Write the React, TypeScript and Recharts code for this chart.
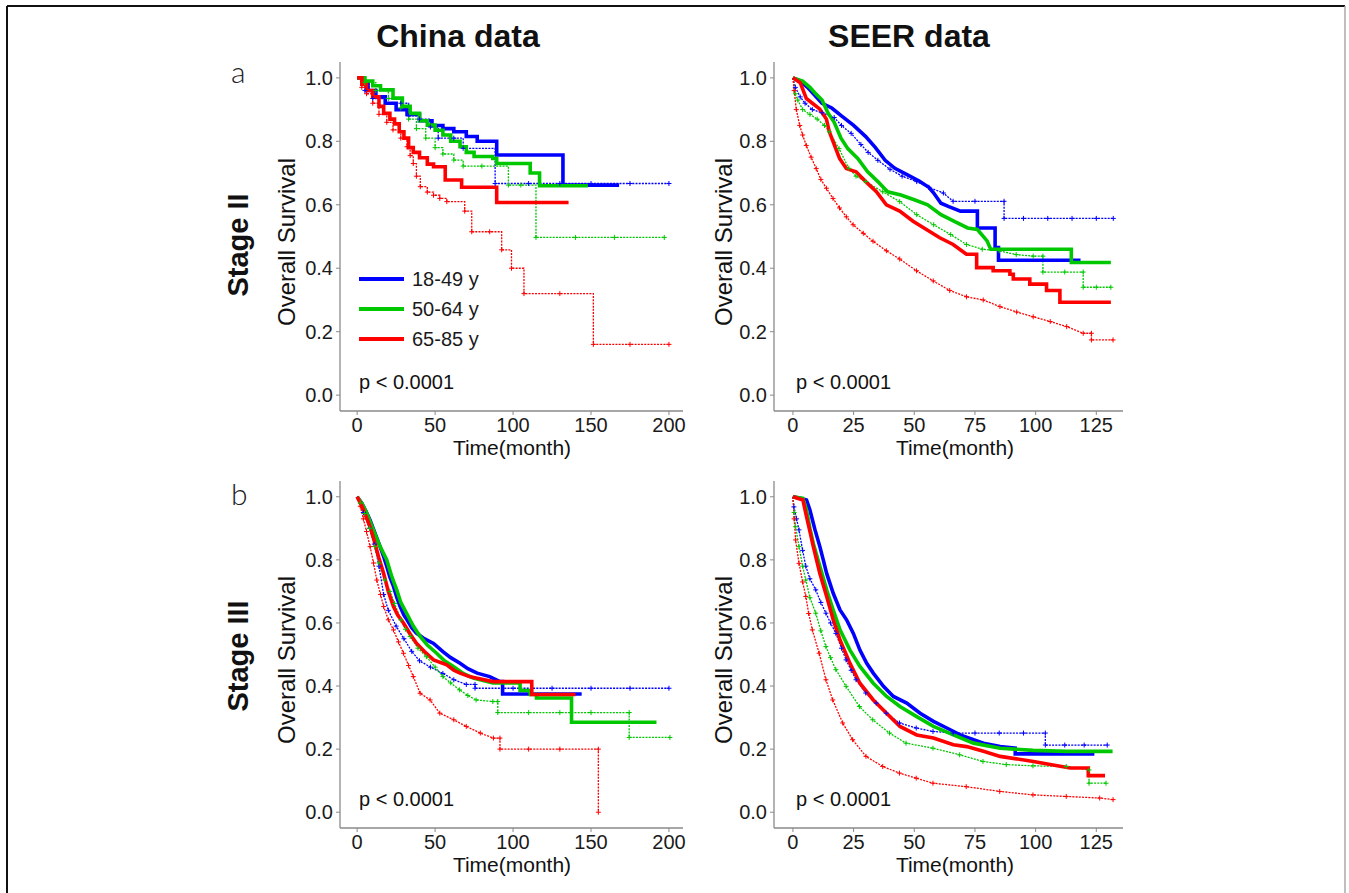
import React from 'react';
import { LineChart, Line, XAxis, YAxis, Legend } from 'recharts';

type Pt = [number, number];

const FONT = '"Liberation Sans", Arial, Helvetica, sans-serif';
const AGE_GROUPS = ['18-49 y', '50-64 y', '65-85 y'];
const GROUP_COLORS = ['#0000ff', '#00c800', '#ff0000'];
const CHINA_TICKS = [0, 50, 100, 150, 200];
const SEER_TICKS = [0, 25, 50, 75, 100, 125];
const SURV_TICKS = [0, 0.2, 0.4, 0.6, 0.8, 1.0];

// [month, survival]; extra points on flat stretches are censor marks

// China data, stage II (drawn as steps)
const chinaII_1849_solid: Pt[] = [[0, 1], [3, 0.98], [7, 0.96], [12, 0.94], [18, 0.92], [25, 0.9], [32, 0.885], [40, 0.865], [48, 0.85], [55, 0.84], [62, 0.83], [70, 0.815], [77, 0.8], [89.5, 0.757], [132, 0.662], [168, 0.662]];
const chinaII_5064_solid: Pt[] = [[0, 1], [5, 0.99], [10, 0.975], [15, 0.962], [23, 0.936], [29, 0.91], [34, 0.888], [40, 0.865], [45, 0.851], [50, 0.835], [55, 0.82], [60, 0.8], [66, 0.783], [70, 0.765], [75, 0.752], [87, 0.746], [89.5, 0.73], [111, 0.7], [117, 0.66], [148, 0.66]];
const chinaII_6585_solid: Pt[] = [[0, 1], [3, 0.98], [6, 0.96], [10, 0.94], [14, 0.91], [17, 0.888], [21, 0.87], [24, 0.855], [27, 0.83], [30, 0.81], [33, 0.78], [36, 0.765], [40, 0.748], [45, 0.728], [49, 0.72], [56.5, 0.678], [67, 0.655], [89.5, 0.607], [135.6, 0.607]];
const chinaII_1849_dotted: Pt[] = [[0, 1], [5, 0.96], [10, 0.935], [28, 0.92], [33, 0.88], [40, 0.87], [47, 0.845], [52, 0.81], [62, 0.81], [68, 0.778], [88.5, 0.667], [110, 0.667], [130, 0.667], [150, 0.667], [175, 0.667], [200, 0.667]];
const chinaII_5064_dotted: Pt[] = [[0, 1], [5, 0.985], [12, 0.96], [20, 0.935], [28, 0.905], [33, 0.87], [38, 0.84], [44, 0.81], [50, 0.78], [55, 0.76], [62, 0.741], [68, 0.722], [80, 0.722], [97, 0.662], [105, 0.662], [114.7, 0.497], [140, 0.497], [165, 0.497], [197, 0.497]];
const chinaII_6585_dotted: Pt[] = [[0, 1], [3, 0.97], [6, 0.95], [10, 0.92], [14, 0.885], [19, 0.86], [23, 0.836], [28, 0.81], [32, 0.783], [34, 0.755], [36, 0.73], [38, 0.69], [40.5, 0.657], [45, 0.64], [49, 0.63], [53, 0.62], [57.5, 0.61], [69, 0.58], [73.5, 0.515], [85, 0.515], [92.7, 0.458], [99, 0.4], [107, 0.32], [130, 0.32], [151.5, 0.16], [175, 0.16], [200, 0.16]];

// SEER data, stage II (traced vertices)
const seerII_1849_solid: Pt[] = [[0, 1], [3, 0.99], [6, 0.97], [9, 0.945], [12, 0.92], [16, 0.905], [20, 0.88], [25, 0.85], [30, 0.815], [34, 0.78], [38, 0.74], [42, 0.715], [47, 0.695], [52, 0.675], [56, 0.655], [58, 0.637], [61, 0.605], [64, 0.595], [69, 0.58], [76, 0.58], [76, 0.527], [83.3, 0.527], [83.3, 0.465], [84.7, 0.465], [84.7, 0.425], [118.5, 0.425]];
const seerII_5064_solid: Pt[] = [[0, 1], [4, 0.99], [7, 0.97], [9, 0.953], [12, 0.93], [14.4, 0.89], [17, 0.86], [19.8, 0.81], [22.6, 0.777], [26.7, 0.746], [30.8, 0.704], [35, 0.673], [39, 0.641], [44.5, 0.631], [50, 0.616], [55.5, 0.6], [61, 0.569], [66.5, 0.548], [72, 0.527], [76, 0.522], [80, 0.486], [81.5, 0.46], [114.7, 0.46], [114.7, 0.418], [131, 0.418]];
const seerII_6585_solid: Pt[] = [[0, 1], [3, 0.985], [5.5, 0.935], [8, 0.92], [11, 0.902], [13.8, 0.87], [15, 0.83], [16.5, 0.8], [19.2, 0.746], [22, 0.714], [26, 0.704], [30, 0.673], [34.4, 0.641], [38.5, 0.6], [44, 0.58], [49.5, 0.548], [55, 0.522], [60.5, 0.496], [66, 0.475], [71.5, 0.444], [75.7, 0.444], [75.7, 0.402], [82.5, 0.402], [82.5, 0.392], [89.4, 0.392], [89.4, 0.381], [90.8, 0.381], [90.8, 0.366], [97.6, 0.366], [97.6, 0.35], [104.5, 0.35], [104.5, 0.33], [110, 0.33], [110, 0.293], [131, 0.293]];
const seerII_1849_dotted: Pt[] = [[0, 1], [1, 0.97], [3, 0.94], [5, 0.92], [8, 0.9], [12, 0.89], [17, 0.875], [20, 0.85], [24, 0.825], [28, 0.79], [31, 0.765], [35, 0.74], [40, 0.712], [45, 0.69], [51, 0.673], [56, 0.655], [62, 0.637], [66, 0.611], [75, 0.611], [87, 0.611], [87, 0.557], [95, 0.557], [105, 0.557], [115, 0.557], [125, 0.557], [132, 0.557]];
const seerII_5064_dotted: Pt[] = [[0, 1], [1, 0.95], [2, 0.93], [4, 0.9], [7, 0.885], [10, 0.87], [13, 0.85], [15, 0.83], [19, 0.777], [23, 0.715], [26, 0.69], [30, 0.673], [37, 0.641], [44, 0.61], [51, 0.569], [58, 0.537], [65, 0.506], [71.5, 0.475], [78, 0.46], [85, 0.455], [92, 0.443], [99, 0.438], [103, 0.438], [103, 0.388], [112, 0.388], [119.6, 0.388], [119.6, 0.34], [125, 0.34], [131, 0.34]];
const seerII_6585_dotted: Pt[] = [[0, 1], [0.5, 0.96], [1.4, 0.9], [2.8, 0.85], [4, 0.82], [5.5, 0.787], [7.5, 0.75], [9.6, 0.714], [11.5, 0.68], [13.8, 0.652], [16.5, 0.62], [19.2, 0.59], [22, 0.562], [24.8, 0.537], [29, 0.51], [33, 0.485], [38.5, 0.455], [44, 0.429], [50.9, 0.392], [57.8, 0.36], [64.6, 0.33], [71.5, 0.31], [78.4, 0.3], [85.3, 0.279], [92.2, 0.262], [99, 0.247], [106, 0.232], [112.8, 0.216], [119.6, 0.195], [123, 0.195], [123, 0.174], [131.9, 0.174]];

// China data, stage III (traced vertices)
const chinaIII_1849_solid: Pt[] = [[0, 1], [3, 0.98], [6, 0.95], [8.3, 0.926], [11, 0.89], [14.7, 0.842], [17, 0.81], [19, 0.779], [21, 0.745], [23.3, 0.716], [25.5, 0.68], [27.6, 0.652], [30, 0.625], [32, 0.61], [35, 0.585], [38, 0.568], [43, 0.55], [49, 0.535], [55, 0.509], [60, 0.49], [66, 0.472], [71, 0.455], [77, 0.441], [85, 0.43], [91.6, 0.414], [93.3, 0.414], [93.3, 0.375], [144, 0.375]];
const chinaIII_5064_solid: Pt[] = [[0, 1], [3, 0.98], [6, 0.95], [10.4, 0.895], [14, 0.85], [19, 0.8], [22, 0.75], [25.4, 0.705], [28, 0.665], [31.8, 0.63], [36, 0.59], [40.4, 0.557], [45, 0.53], [51, 0.504], [56, 0.48], [61.7, 0.462], [68, 0.44], [74.5, 0.425], [87, 0.41], [104.5, 0.41], [104.5, 0.386], [111, 0.386], [111, 0.373], [115, 0.373], [115, 0.362], [137.5, 0.362], [137.5, 0.285], [192, 0.285]];
const chinaIII_6585_solid: Pt[] = [[0, 1], [3, 0.97], [5.5, 0.94], [8.3, 0.905], [11, 0.86], [14, 0.805], [17, 0.757], [20, 0.7], [23.3, 0.652], [26, 0.625], [29.7, 0.6], [34, 0.565], [38, 0.536], [43, 0.51], [49, 0.483], [57.5, 0.467], [62, 0.45], [66, 0.441], [72, 0.43], [77, 0.425], [87, 0.414], [112, 0.414], [112, 0.373], [140, 0.373]];
const chinaIII_1849_dotted: Pt[] = [[0, 1], [4, 0.95], [8, 0.9], [11, 0.85], [14, 0.78], [17, 0.69], [20, 0.64], [25, 0.59], [30, 0.55], [35, 0.51], [40, 0.48], [47, 0.46], [55, 0.44], [62, 0.42], [70, 0.405], [75.6, 0.405], [75.6, 0.393], [100, 0.393], [125, 0.393], [150, 0.393], [175, 0.393], [200, 0.393]];
const chinaIII_5064_dotted: Pt[] = [[0, 1], [2, 0.98], [4.8, 0.947], [8, 0.9], [11.2, 0.842], [14, 0.79], [17.6, 0.736], [21, 0.7], [24, 0.662], [28, 0.61], [31, 0.58], [34, 0.557], [39, 0.52], [44.4, 0.493], [50, 0.46], [55, 0.43], [60, 0.41], [65.7, 0.388], [71, 0.37], [76.3, 0.356], [87, 0.351], [90.2, 0.351], [90.2, 0.316], [110, 0.316], [130, 0.316], [150, 0.316], [174.5, 0.316], [174.5, 0.237], [200.6, 0.237]];
const chinaIII_6585_dotted: Pt[] = [[0, 1], [2, 0.97], [4, 0.93], [6, 0.89], [8.3, 0.842], [10.5, 0.79], [12.6, 0.736], [15, 0.69], [17, 0.652], [20, 0.61], [23.3, 0.578], [26.5, 0.54], [29.7, 0.504], [33, 0.465], [36, 0.43], [40.4, 0.377], [46.8, 0.356], [53, 0.314], [62, 0.293], [70, 0.272], [79, 0.251], [87.4, 0.235], [91.6, 0.235], [91.6, 0.2], [110, 0.2], [130, 0.2], [154.7, 0.2], [154.7, 0]];

// SEER data, stage III (traced vertices)
const seerIII_1849_solid: Pt[] = [[0, 1], [3, 0.995], [5.6, 0.99], [7, 0.958], [9.1, 0.895], [11.1, 0.842], [12.5, 0.8], [13.9, 0.757], [16.6, 0.694], [19.4, 0.641], [22.1, 0.61], [24.9, 0.567], [27.6, 0.514], [30.4, 0.472], [33.1, 0.441], [37.3, 0.399], [41.4, 0.367], [46.9, 0.346], [52.4, 0.314], [57.9, 0.288], [63.4, 0.267], [68.9, 0.245], [78.5, 0.219], [85.4, 0.208], [91.6, 0.203], [91.6, 0.185], [124.2, 0.185]];
const seerIII_5064_solid: Pt[] = [[0, 1], [4.1, 0.995], [5.6, 0.958], [7, 0.9], [8.4, 0.852], [11.1, 0.78], [13.9, 0.705], [16.6, 0.641], [19.4, 0.578], [23.5, 0.514], [27.6, 0.462], [33.1, 0.409], [38.6, 0.367], [44.1, 0.335], [51, 0.303], [57.9, 0.272], [66.1, 0.245], [74.4, 0.219], [85.4, 0.203], [99, 0.196], [112.8, 0.193], [131.7, 0.193]];
const seerIII_6585_solid: Pt[] = [[0, 1], [4.1, 0.99], [5.6, 0.937], [7, 0.89], [8.4, 0.842], [11.1, 0.757], [13.9, 0.684], [16.6, 0.61], [19.4, 0.546], [23.5, 0.472], [27.6, 0.409], [33.1, 0.356], [38.6, 0.314], [44.1, 0.272], [51, 0.245], [57.9, 0.235], [66.1, 0.214], [71.6, 0.208], [78.5, 0.193], [85.4, 0.177], [99.1, 0.161], [106, 0.151], [114.2, 0.14], [121.7, 0.14], [121.7, 0.116], [128.6, 0.116]];
const seerIII_1849_dotted: Pt[] = [[0, 1], [0.4, 0.968], [1.5, 0.93], [2.5, 0.895], [4, 0.83], [5.3, 0.78], [7, 0.74], [9.4, 0.705], [11.5, 0.665], [13.6, 0.631], [15.5, 0.6], [17.7, 0.567], [20, 0.52], [21.9, 0.483], [24, 0.45], [26, 0.42], [30, 0.378], [34.3, 0.346], [38.4, 0.314], [43.9, 0.283], [50.8, 0.267], [57.7, 0.256], [66, 0.251], [75, 0.251], [85, 0.251], [95, 0.251], [104, 0.251], [104, 0.213], [112, 0.213], [120, 0.213], [129.5, 0.213]];
const seerIII_5064_dotted: Pt[] = [[0, 1], [0.5, 0.95], [1.1, 0.905], [2.5, 0.842], [4, 0.78], [5.3, 0.736], [7, 0.68], [9.4, 0.631], [11.5, 0.575], [13.6, 0.525], [15.5, 0.49], [17.7, 0.452], [21.9, 0.399], [27.4, 0.335], [32.9, 0.293], [39.8, 0.251], [46.6, 0.219], [57.7, 0.203], [68.7, 0.182], [78.3, 0.161], [87.9, 0.151], [98.9, 0.147], [112.6, 0.145], [122, 0.134], [122, 0.092], [129, 0.092]];
const seerIII_6585_dotted: Pt[] = [[0, 1], [0.5, 0.93], [1.1, 0.863], [2.5, 0.789], [4, 0.73], [5.3, 0.684], [6.5, 0.63], [8, 0.578], [10.8, 0.504], [13.6, 0.42], [16.4, 0.356], [20.5, 0.283], [24.6, 0.23], [30.1, 0.177], [37, 0.145], [43.9, 0.124], [50.8, 0.108], [57.7, 0.092], [71.4, 0.081], [85.2, 0.066], [98.9, 0.055], [112.6, 0.05], [126.4, 0.045], [131.9, 0.04]];

const toRows = (pts: Pt[]) => pts.map(([t, s]) => ({ t, s }));

// small "+" at each point of the thin curves
const censorDot = (color: string) => (props: any) => {
  const { cx, cy, index } = props;
  if (cx == null || cy == null || index === 0) return <g key={`c-${index}`} />;
  return (
    <path
      key={`c-${index}`}
      d={`M${cx - 2.5},${cy}H${cx + 2.5}M${cx},${cy - 2.5}V${cy + 2.5}`}
      stroke={color}
      strokeWidth={1}
      fill="none"
    />
  );
};

const AXIS_COLOR = '#8a8a8a';
const tickStyle = { fontSize: 20, fill: '#1a1a1a', fontFamily: FONT };

interface PanelProps {
  left: number;
  top: number;
  width: number;
  height: number;
  xDomain: [number, number];
  xTicks: number[];
  solid: Pt[][];
  dotted: Pt[][];
  curve: 'stepAfter' | 'linear';
  showLegend?: boolean;
}

function KMPanel({ left, top, width, height, xDomain, xTicks, solid, dotted, curve, showLegend }: PanelProps) {
  return (
    <div style={{ position: 'absolute', left, top }}>
      <LineChart width={width} height={height} margin={{ top: 22, right: 17, bottom: 0, left: 0 }}>
        <XAxis
          type="number"
          dataKey="t"
          domain={xDomain}
          ticks={xTicks}
          interval={0}
          allowDataOverflow
          height={40}
          axisLine={{ stroke: AXIS_COLOR, strokeWidth: 1.3 }}
          tickLine={{ stroke: AXIS_COLOR }}
          tickSize={4}
          tickMargin={3}
          tick={tickStyle}
        />
        <YAxis
          type="number"
          domain={[-0.05, 1.05]}
          ticks={SURV_TICKS}
          interval={0}
          allowDataOverflow
          width={90}
          tickFormatter={(v: number) => v.toFixed(1)}
          axisLine={{ stroke: AXIS_COLOR, strokeWidth: 1.3 }}
          tickLine={{ stroke: AXIS_COLOR }}
          tickSize={4}
          tickMargin={3}
          tick={tickStyle}
        />
        {dotted.map((pts, i) => (
          <Line
            key={`dotted-${i}`}
            data={toRows(pts)}
            dataKey="s"
            name={`${AGE_GROUPS[i]} dotted`}
            type={curve}
            stroke={GROUP_COLORS[i]}
            strokeWidth={1.3}
            strokeDasharray="2 1.2"
            dot={censorDot(GROUP_COLORS[i])}
            activeDot={false}
            legendType="none"
            isAnimationActive={false}
          />
        ))}
        {solid.map((pts, i) => (
          <Line
            key={`solid-${i}`}
            data={toRows(pts)}
            dataKey="s"
            name={AGE_GROUPS[i]}
            type={curve}
            stroke={GROUP_COLORS[i]}
            strokeWidth={3.6}
            strokeLinejoin="miter"
            dot={false}
            activeDot={false}
            isAnimationActive={false}
          />
        ))}
        {showLegend && (
          <Legend
            layout="horizontal"
            verticalAlign="middle"
            align="center"
            wrapperStyle={{ left: 105, top: 222, width: 200, height: 100 }}
            content={() => (
              <svg width={200} height={100}>
                {AGE_GROUPS.map((g, i) => (
                  <g key={g}>
                    <line x1={4} x2={49} y1={17 + 30 * i} y2={17 + 30 * i} stroke={GROUP_COLORS[i]} strokeWidth={4.2} />
                    <text x={57} y={17 + 30 * i} dy="0.35em" fontSize={20} fontFamily={FONT} fill="#1a1a1a">
                      {g}
                    </text>
                  </g>
                ))}
              </svg>
            )}
          />
        )}
      </LineChart>
    </div>
  );
}

const CHINA_DOMAIN: [number, number] = [-11, 209];
const SEER_DOMAIN: [number, number] = [-7.8, 136];

export default function App() {
  const txt = { fontFamily: FONT, fill: '#111' };
  const light = 'Lato, "DejaVu Sans", sans-serif';
  return (
    <div style={{ position: 'absolute', left: 0, top: 0, width: 1349, height: 893, background: '#fff', overflow: 'hidden' }}>
      <KMPanel
        left={250} top={40} width={450} height={411} curve="stepAfter"
        xDomain={CHINA_DOMAIN} xTicks={CHINA_TICKS}
        solid={[chinaII_1849_solid, chinaII_5064_solid, chinaII_6585_solid]}
        dotted={[chinaII_1849_dotted, chinaII_5064_dotted, chinaII_6585_dotted]}
        showLegend
      />
      <KMPanel
        left={684} top={40} width={456} height={411} curve="linear"
        xDomain={SEER_DOMAIN} xTicks={SEER_TICKS}
        solid={[seerII_1849_solid, seerII_5064_solid, seerII_6585_solid]}
        dotted={[seerII_1849_dotted, seerII_5064_dotted, seerII_6585_dotted]}
      />
      <KMPanel
        left={250} top={459} width={450} height={409} curve="linear"
        xDomain={CHINA_DOMAIN} xTicks={CHINA_TICKS}
        solid={[chinaIII_1849_solid, chinaIII_5064_solid, chinaIII_6585_solid]}
        dotted={[chinaIII_1849_dotted, chinaIII_5064_dotted, chinaIII_6585_dotted]}
      />
      <KMPanel
        left={684} top={459} width={456} height={409} curve="linear"
        xDomain={SEER_DOMAIN} xTicks={SEER_TICKS}
        solid={[seerIII_1849_solid, seerIII_5064_solid, seerIII_6585_solid]}
        dotted={[seerIII_1849_dotted, seerIII_5064_dotted, seerIII_6585_dotted]}
      />

      <svg width={1349} height={893} style={{ position: 'absolute', left: 0, top: 0, pointerEvents: 'none' }}>
        {/* figure frame */}
        <line x1={7} y1={6} x2={1345} y2={6} stroke="#111" strokeWidth={2} />
        <line x1={7} y1={6} x2={7} y2={893} stroke="#111" strokeWidth={2} />
        <line x1={1345} y1={6} x2={1345} y2={893} stroke="#aaa" strokeWidth={1.5} />

        <text x={458} y={47} textAnchor="middle" fontSize={32} fontWeight="bold" {...txt}>China data</text>
        <text x={909} y={47} textAnchor="middle" fontSize={32} fontWeight="bold" {...txt}>SEER data</text>

        <text x={231} y={83} fontSize={30} fontWeight={300} fontFamily={light} fill="#222">a</text>
        <text x={231} y={505} fontSize={30} fontWeight={300} fontFamily={light} fill="#222">b</text>

        <text transform="translate(248,245) rotate(-90)" textAnchor="middle" fontSize={29} fontWeight="bold" {...txt}>Stage II</text>
        <text transform="translate(248,656) rotate(-90)" textAnchor="middle" fontSize={29} fontWeight="bold" {...txt}>Stage III</text>

        <text transform="translate(295,242) rotate(-90)" textAnchor="middle" fontSize={24} {...txt}>Overall Survival</text>
        <text transform="translate(732,242) rotate(-90)" textAnchor="middle" fontSize={24} {...txt}>Overall Survival</text>
        <text transform="translate(295,660) rotate(-90)" textAnchor="middle" fontSize={24} {...txt}>Overall Survival</text>
        <text transform="translate(732,660) rotate(-90)" textAnchor="middle" fontSize={24} {...txt}>Overall Survival</text>

        <text x={512} y={455} textAnchor="middle" fontSize={21} {...txt}>Time(month)</text>
        <text x={955} y={455} textAnchor="middle" fontSize={21} {...txt}>Time(month)</text>
        <text x={512} y={872} textAnchor="middle" fontSize={21} {...txt}>Time(month)</text>
        <text x={955} y={872} textAnchor="middle" fontSize={21} {...txt}>Time(month)</text>

        <text x={359} y={389} fontSize={20} {...txt}>p &lt; 0.0001</text>
        <text x={796} y={389} fontSize={20} {...txt}>p &lt; 0.0001</text>
        <text x={359} y={806} fontSize={20} {...txt}>p &lt; 0.0001</text>
        <text x={796} y={806} fontSize={20} {...txt}>p &lt; 0.0001</text>
      </svg>
    </div>
  );
}
